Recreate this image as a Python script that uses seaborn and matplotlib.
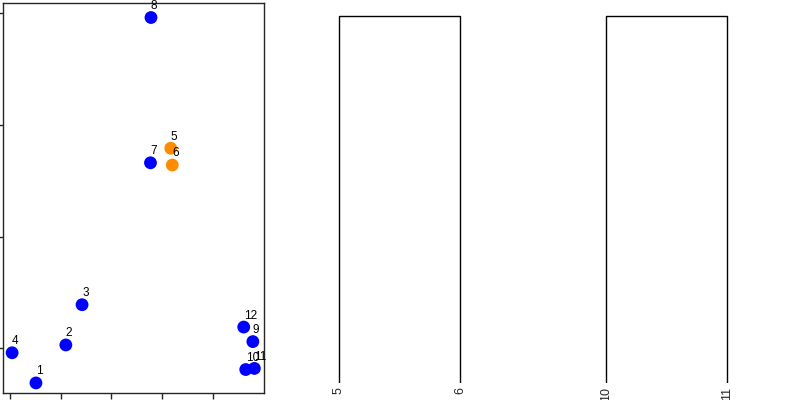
"""
Scatter of numbered points with two small dendrograms
"""

import numpy as np
import pandas as pd
import matplotlib
matplotlib.use("Agg")
import matplotlib.pyplot as plt
import seaborn as sns

# point data
point_ids = ['1', '2', '3', '4', '5', '6', '7', '8', '9', '10', '11', '12']
x_vals = [0.51, 1.10, 1.42, 0.04, 3.17, 3.20, 2.77, 2.78, 4.79, 4.65, 4.82, 4.61]
y_vals = [-0.31, 0.03, 0.39, -0.04, 1.79, 1.64, 1.66, 2.96, 0.06, -0.19, -0.18, 0.19]
group = ['other', 'other', 'other', 'other', 'pair', 'pair',
         'other', 'other', 'other', 'other', 'other', 'other']

# dendrogram data (two leaves each)
dendro_a_leaves = ['5', '6']
dendro_a_height = 0.159
dendro_b_leaves = ['10', '11']
dendro_b_height = 0.171

sns.set_style("ticks")
plt.rcParams['font.family'] = ['Liberation Sans', 'DejaVu Sans']

df = pd.DataFrame({'x': x_vals, 'y': y_vals, 'id': point_ids, 'group': group})

fig = plt.figure(figsize=(8, 4), dpi=100)

# left scatter panel
ax = fig.add_axes([3 / 800, 7 / 400, 261 / 800, 390 / 400])
sns.scatterplot(data=df, x='x', y='y', hue='group',
                palette={'other': 'blue', 'pair': 'darkorange'},
                s=85, edgecolor='none', legend=False, ax=ax, zorder=3)
for _, r in df.iterrows():
    ax.annotate(r['id'], (r['x'], r['y']), xytext=(0, 4), textcoords='offset points',
                fontsize=8.5, ha='left', va='bottom', color='black')
ax.set_xlim(-0.14, 5.01)
ax.set_ylim(-0.40, 3.09)
ax.set_xticks([0, 1, 2, 3, 4])
ax.set_yticks([0, 1, 2, 3])
ax.set_xticklabels([])
ax.set_yticklabels([])
ax.tick_params(length=4, width=1)
ax.set_xlabel('')
ax.set_ylabel('')
for sp in ax.spines.values():
    sp.set_linewidth(1)


def draw_dendro(ax, leaves, height):
    d = pd.DataFrame({'x': [5, 5, 15, 15], 'y': [0, height, height, 0]})
    sns.lineplot(data=d, x='x', y='y', sort=False, estimator=None,
                 color='black', linewidth=1, ax=ax)
    ax.set_xlim(0, 20)
    ax.set_ylim(0, height * 1.05)
    ax.set_xticks([5, 15])
    ax.set_xticklabels(leaves, rotation=90, fontsize=9)
    ax.set_yticks([])
    ax.tick_params(axis='x', length=0, pad=3)
    for sp in ax.spines.values():
        sp.set_visible(False)
    ax.set_xlabel('')
    ax.set_ylabel('')


ax2 = fig.add_axes([278.5 / 800, 17 / 400, 242 / 800, 385 / 400])
draw_dendro(ax2, dendro_a_leaves, dendro_a_height)

ax3 = fig.add_axes([545.5 / 800, 17 / 400, 242 / 800, 385 / 400])
draw_dendro(ax3, dendro_b_leaves, dendro_b_height)

fig.savefig('out.png', dpi=100)
plt.close(fig)
